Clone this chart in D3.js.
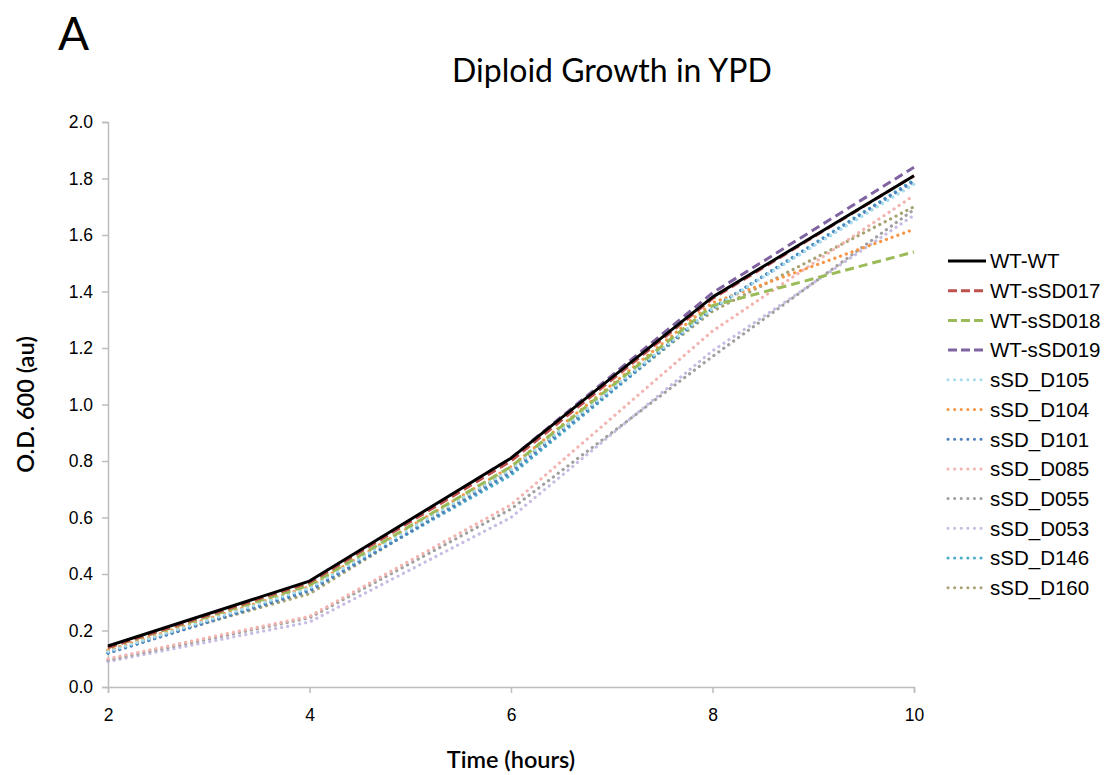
<!DOCTYPE html>
<html>
<head>
<meta charset="utf-8">
<script src="https://cdn.jsdelivr.net/npm/d3@7"></script>
<style>
  html, body { margin: 0; padding: 0; background: #fff; }
  svg { display: block; }
</style>
</head>
<body>
<svg id="chart" width="1107" height="775"></svg>
<script>
// Sampling times (hours)
const hours = [2, 4, 6, 8, 10];

// O.D. 600 readings per strain
const wtWt     = [0.145, 0.375, 0.81, 1.38, 1.81];
const wtSD017  = [0.14, 0.37, 0.80, 1.375, 1.81];
const wtSD018  = [0.14, 0.36, 0.78, 1.35, 1.54];
const wtSD019  = [0.14, 0.37, 0.81, 1.395, 1.84];
const sdD105   = [0.125, 0.35, 0.77, 1.34, 1.78];
const sdD104   = [0.13, 0.355, 0.78, 1.36, 1.62];
const sdD101   = [0.12, 0.34, 0.76, 1.34, 1.79];
const sdD085   = [0.10, 0.25, 0.645, 1.26, 1.74];
const sdD055   = [0.095, 0.245, 0.63, 1.17, 1.69];
const sdD053   = [0.09, 0.23, 0.60, 1.19, 1.67];
const sdD146   = [0.12, 0.345, 0.75, 1.34, 1.795];
const sdD160   = [0.13, 0.33, 0.77, 1.33, 1.70];

const seriesNames = ["WT-WT", "WT-sSD017", "WT-sSD018", "WT-sSD019", "sSD_D105", "sSD_D104",
                     "sSD_D101", "sSD_D085", "sSD_D055", "sSD_D053", "sSD_D146", "sSD_D160"];
const seriesValues = [wtWt, wtSD017, wtSD018, wtSD019, sdD105, sdD104,
                      sdD101, sdD085, sdD055, sdD053, sdD146, sdD160];
const seriesColors = ["#000000", "#c0504d", "#9bbb59", "#8064a2", "#a6dcec", "#f79646",
                      "#4f81bd", "#f2b4b0", "#a0a0a0", "#c9bce3", "#4bacc6", "#a9a374"];
const seriesStyles = ["solid", "dash", "dash", "dash", "dot", "dot",
                      "dot", "dot", "dot", "dot", "dot", "dot"];

const xTicks = [2, 4, 6, 8, 10];
const yTicks = [0, 0.2, 0.4, 0.6, 0.8, 1.0, 1.2, 1.4, 1.6, 1.8, 2.0];

const series = seriesNames.map((name, i) => ({
  name, values: seriesValues[i], color: seriesColors[i], style: seriesStyles[i]
}));

const svg = d3.select("#chart");
const plot = { left: 108, right: 914, top: 122, bottom: 687 };

const x = d3.scaleLinear().domain([2, 10]).range([plot.left, plot.right]);
const y = d3.scaleLinear().domain([0, 2]).range([plot.bottom, plot.top]);

const axisColor = "#bdbdbd";
const tickFont = "'Liberation Sans', Arial, Helvetica, sans-serif";
const titleFont = "Lato, 'Open Sans', sans-serif";

// Axes
const yAxis = svg.append("g")
  .attr("transform", `translate(${plot.left},0)`)
  .call(d3.axisLeft(y).tickValues(yTicks).tickFormat(d3.format(".1f")).tickSize(6).tickPadding(9));
const xAxis = svg.append("g")
  .attr("transform", `translate(0,${plot.bottom})`)
  .call(d3.axisBottom(x).tickValues(xTicks).tickFormat(d3.format("d")).tickSize(6).tickPadding(16));

[yAxis, xAxis].forEach(g => {
  g.select(".domain").attr("stroke", axisColor).attr("stroke-width", 1.5);
  g.selectAll(".tick line").attr("stroke", axisColor).attr("stroke-width", 1.5);
  g.selectAll(".tick text")
    .attr("fill", "#000")
    .style("font-family", tickFont)
    .style("font-size", "17.5px");
});

// Lines
const line = d3.line()
  .x((d, i) => x(hours[i]))
  .y(d => y(d));

function dashFor(style) {
  if (style === "dash") return "9 5";
  if (style === "dot") return "0.1 6";
  return null;
}

// Draw lighter dotted series first so the solid/dashed ones sit on top
const order = [...series].reverse();
svg.append("g").selectAll("path")
  .data(order)
  .join("path")
  .attr("d", d => line(d.values))
  .attr("fill", "none")
  .attr("stroke", d => d.color)
  .attr("stroke-width", d => d.style === "dot" ? 3.2 : 3)
  .attr("stroke-linecap", d => d.style === "dot" ? "round" : "butt")
  .attr("stroke-linejoin", "round")
  .attr("stroke-dasharray", d => dashFor(d.style));

// Legend
const legend = svg.append("g").attr("transform", "translate(948,261)");
const rowStep = 29.7;
const rows = legend.selectAll("g")
  .data(series)
  .join("g")
  .attr("transform", (d, i) => `translate(0,${i * rowStep})`);
rows.append("line")
  .attr("x1", 0).attr("x2", 38).attr("y1", 0).attr("y2", 0)
  .attr("stroke", d => d.color)
  .attr("stroke-width", 3)
  .attr("stroke-linecap", d => d.style === "dot" ? "round" : "butt")
  .attr("stroke-dasharray", d => d.style === "dot" ? "0.1 6.5" : (d.style === "dash" ? "9 4" : null));
rows.append("text")
  .attr("x", 42).attr("y", 0).attr("dy", "0.36em")
  .style("font-family", tickFont)
  .style("font-size", "20.5px")
  .text(d => d.name);

// Titles
svg.append("text")
  .attr("x", 612).attr("y", 82)
  .attr("text-anchor", "middle")
  .style("font-family", titleFont)
  .style("font-size", "32px")
  .text("Diploid Growth in YPD");

svg.append("text")
  .attr("x", 58).attr("y", 50)
  .style("font-family", titleFont)
  .style("font-size", "46px")
  .text("A");

svg.append("text")
  .attr("x", 511).attr("y", 768)
  .attr("text-anchor", "middle")
  .style("font-family", titleFont)
  .style("font-size", "23.5px")
  .style("font-weight", "600")
  .text("Time (hours)");

svg.append("text")
  .attr("transform", `translate(34,${(plot.top + plot.bottom) / 2}) rotate(-90)`)
  .attr("text-anchor", "middle")
  .style("font-family", titleFont)
  .style("font-size", "23.5px")
  .style("font-weight", "600")
  .text("O.D. 600 (au)");
</script>
</body>
</html>
